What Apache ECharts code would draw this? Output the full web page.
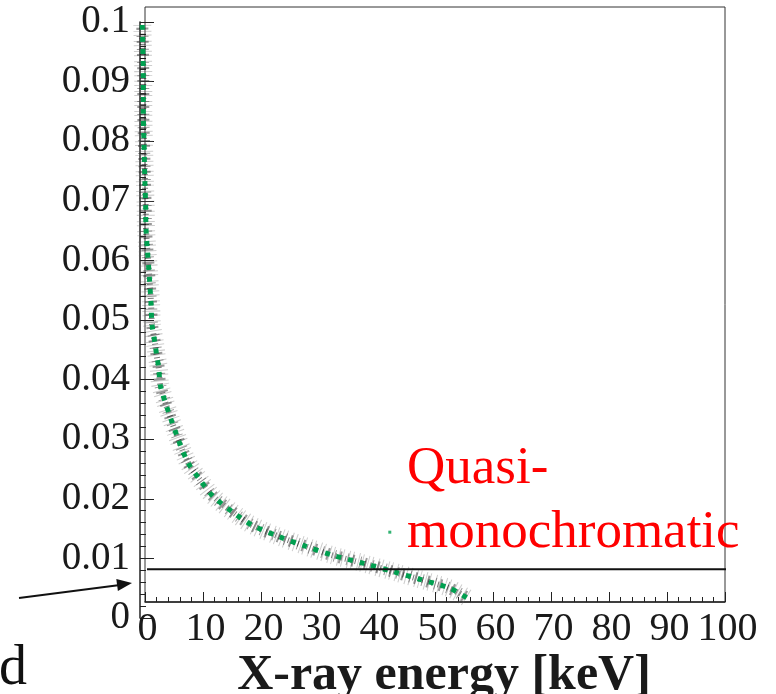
<!DOCTYPE html>
<html>
<head>
<meta charset="utf-8">
<script src="https://cdn.jsdelivr.net/npm/echarts@6/dist/echarts.min.js"></script>
<style>
  html, body { margin: 0; padding: 0; background: #fff; }
  #chart { width: 776px; height: 694px; }
</style>
</head>
<body>
<div id="chart"></div>
<script>
// curve: energy [keV] and value
const energy = [0.39, 0.56, 0.56, 0.68, 0.85, 0.97, 1.02, 1.25, 1.54, 1.88, 2.05, 2.61, 2.85, 3.19, 3.53,
  6.26, 8.24, 10.24, 12.5, 16.5, 19.3, 23.9, 28.4, 33.0, 38.1, 43.2, 47.8, 52.9, 56.0];
const flux = [0.0995, 0.0906, 0.0852, 0.0797, 0.0727, 0.069, 0.0654, 0.0619, 0.058, 0.0529, 0.0493, 0.0458, 0.044, 0.0421, 0.0388,
  0.0307, 0.026, 0.0232, 0.0204, 0.0173, 0.0155, 0.0136, 0.012, 0.0105, 0.0092, 0.0078, 0.0065, 0.005, 0.0033];
const strayE = [42.7];
const strayY = [0.0144];
const cutLevel = 0.0082;
const cutE = [1.2, 101];
const xTicks = [0, 100, 10];
const yTicks = [0, 0.1, 0.01];

const curve = energy.map((e, i) => [e, flux[i]]);
const stray = strayE.map((e, i) => [e, strayY[i]]);
const cut = cutE.map(e => [e, cutLevel]);

const chart = echarts.init(document.getElementById('chart'));
const serif = 'Liberation Serif';

// speckle band round the curve, several dotted strokes on top of each other
function band(width, color, dash, offset) {
  return {
    type: 'line', xAxisIndex: 1, yAxisIndex: 1, data: curve,
    smooth: 0.3, symbol: 'none', silent: true,
    lineStyle: { width: width, color: color, type: dash, dashOffset: offset, cap: 'butt' }
  };
}

const option = {
  animation: false,
  grid: [
    { left: 145, right: 51, top: 7, bottom: 92, outerBoundsMode: 'none', show: true, borderColor: '#333', borderWidth: 1 },
    { left: 140, right: 51, top: 22, bottom: 76, outerBoundsMode: 'none' }
  ],
  xAxis: [
    {
      gridIndex: 0, type: 'value', min: xTicks[0], max: xTicks[1], interval: xTicks[2],
      axisLine: { show: true, lineStyle: { color: '#222', width: 1.5 } },
      axisTick: { show: true, inside: true, length: 10, lineStyle: { color: '#222' } },
      minorTick: { show: true, splitNumber: 5, length: 5, lineStyle: { color: '#222' } },
      splitLine: { show: false },
      axisLabel: { fontFamily: serif, fontSize: 40, color: '#1a1a1a', margin: 7, padding: [0, 0, 0, 5] },
      name: 'X-ray energy [keV]', nameLocation: 'middle', nameGap: 49, nameMoveOverlap: false,
      nameTextStyle: { fontFamily: serif, fontSize: 50, fontWeight: 'bold', color: '#1a1a1a', padding: [0, 0, 0, 18] }
    },
    { gridIndex: 1, type: 'value', min: xTicks[0], max: xTicks[1], show: false }
  ],
  yAxis: [
    { gridIndex: 0, type: 'value', min: yTicks[0], max: yTicks[1], show: false },
    {
      gridIndex: 1, type: 'value', min: yTicks[0], max: yTicks[1], interval: yTicks[2],
      axisLine: { show: true, lineStyle: { color: '#222', width: 1.5 } },
      axisTick: { show: true, inside: true, length: 14, lineStyle: { color: '#222' } },
      minorTick: { show: true, splitNumber: 5, length: 6, lineStyle: { color: '#222' } },
      splitLine: { show: false },
      axisLabel: {
        fontFamily: serif, fontSize: 39, color: '#1a1a1a', margin: 10,
        formatter: v => String(+v.toFixed(2))
      }
    }
  ],
  series: [
    band(18, 'rgba(100,100,100,0.32)', [1, 5, 1, 3], 0),
    band(12, 'rgba(50,50,50,0.5)', [1, 4, 2, 6], 2),
    band(6, 'rgba(10,10,10,0.55)', [1, 3, 1, 5], 1),
    {
      name: 'mean', type: 'line', xAxisIndex: 1, yAxisIndex: 1, data: curve,
      smooth: 0.3, symbol: 'none',
      lineStyle: { width: 5, color: '#00a050', type: [5, 7], cap: 'butt' }
    },
    {
      name: 'cut', type: 'line', xAxisIndex: 1, yAxisIndex: 1, data: cut,
      symbol: 'none', clip: false, silent: true,
      lineStyle: { color: '#111', width: 2 }
    },
    {
      name: 'stray', type: 'scatter', xAxisIndex: 1, yAxisIndex: 1, data: stray,
      symbol: 'rect', symbolSize: 3, itemStyle: { color: '#00a050' }
    }
  ],
  graphic: [
    { type: 'text', left: 407, top: 443, style: { text: 'Quasi-', font: '53px "Liberation Serif"', fill: '#ff0000' } },
    { type: 'text', left: 407, top: 507, style: { text: 'monochromatic', font: '53px "Liberation Serif"', fill: '#ff0000' } },
    { type: 'text', left: -1, top: 641, style: { text: 'd', font: '56px "Liberation Serif"', fill: '#111' } },
    { type: 'line', shape: { x1: 19, y1: 598, x2: 120, y2: 585 }, style: { stroke: '#111', lineWidth: 2 } },
    { type: 'polygon', shape: { points: [[132, 583], [117.9, 590.9], [116.3, 579.1]] }, style: { fill: '#111' } }
  ]
};

chart.setOption(option);
</script>
</body>
</html>
